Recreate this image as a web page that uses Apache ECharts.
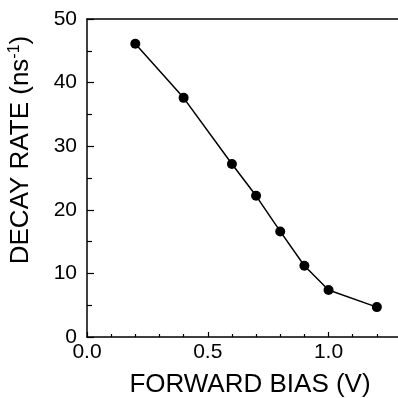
<!DOCTYPE html>
<html>
<head>
<meta charset="utf-8">
<script src="https://cdn.jsdelivr.net/npm/echarts@6/dist/echarts.min.js"></script>
<style>
  html, body { margin: 0; padding: 0; background: #fff; }
  #chart { width: 398px; height: 398px; }
</style>
</head>
<body>
<div id="chart"></div>
<script>
const biasVolts = [0.2, 0.4, 0.6, 0.7, 0.8, 0.9, 1.0, 1.2];
const decayRate = [46.1, 37.6, 27.2, 22.2, 16.6, 11.2, 7.4, 4.7];
const xTicks = [0, 0.5, 1.0];
const yTicks = [0, 10, 20, 30, 40, 50];

const FONT = "Liberation Sans";
const chart = echarts.init(document.getElementById("chart"), null, { renderer: "canvas" });

chart.setOption({
  backgroundColor: "#fff",
  animation: false,
  grid: { left: 87, right: -3, top: 19, bottom: 61, outerBoundsMode: "none" },
  xAxis: [
    {
      type: "value",
      min: 0,
      max: 1.3,
      interval: 0.5,
      name: "FORWARD BIAS (V)",
      nameLocation: "middle",
      nameGap: 35,
      nameTextStyle: { color: "#000", fontFamily: FONT, fontSize: 26, padding: [0, 0, 0, 12] },
      axisLine: { lineStyle: { color: "#000", width: 1.5 } },
      axisTick: { inside: true, length: 5, lineStyle: { color: "#000", width: 1.2 } },
      minorTick: { show: true, splitNumber: 5, length: 3, lineStyle: { color: "#000", width: 1.2 } },
      axisLabel: {
        color: "#000", fontFamily: FONT, fontSize: 21, margin: 5,
        showMaxLabel: false,
        formatter: (v) => (xTicks.includes(Math.round(v * 10) / 10) ? v.toFixed(1) : ""),
      },
      splitLine: { show: false },
    },
    {
      type: "value",
      position: "top",
      min: 0,
      max: 1.3,
      axisLine: { show: true, lineStyle: { color: "#000", width: 1.5 } },
      axisTick: { show: false },
      axisLabel: { show: false },
      splitLine: { show: false },
    },
  ],
  yAxis: {
    type: "value",
    min: 0,
    max: 50,
    interval: 10,
    name: "DECAY RATE (ns{sup|-1})",
    nameLocation: "middle",
    nameGap: 52,
    nameTextStyle: {
      color: "#000", fontFamily: FONT, fontSize: 26, padding: [0, 0, 0, 56],
      rich: { sup: { fontFamily: FONT, fontSize: 16, verticalAlign: "top", padding: [0, 0, 12, 0] } },
    },
    axisLine: { show: true, lineStyle: { color: "#000", width: 1.5 } },
    axisTick: { inside: true, length: 7, lineStyle: { color: "#000", width: 1.2 } },
    minorTick: { show: true, splitNumber: 2, length: 5, lineStyle: { color: "#000", width: 1.2 } },
    axisLabel: {
      color: "#000", fontFamily: FONT, fontSize: 21, margin: 10,
      formatter: (v) => (yTicks.includes(v) ? String(v) : ""),
    },
    splitLine: { show: false },
  },
  series: [
    {
      type: "line",
      data: biasVolts.map((x, i) => [x, decayRate[i]]),
      symbol: "circle",
      symbolSize: 10,
      itemStyle: { color: "#000" },
      lineStyle: { color: "#000", width: 1.5 },
    },
  ],
});
</script>
</body>
</html>
